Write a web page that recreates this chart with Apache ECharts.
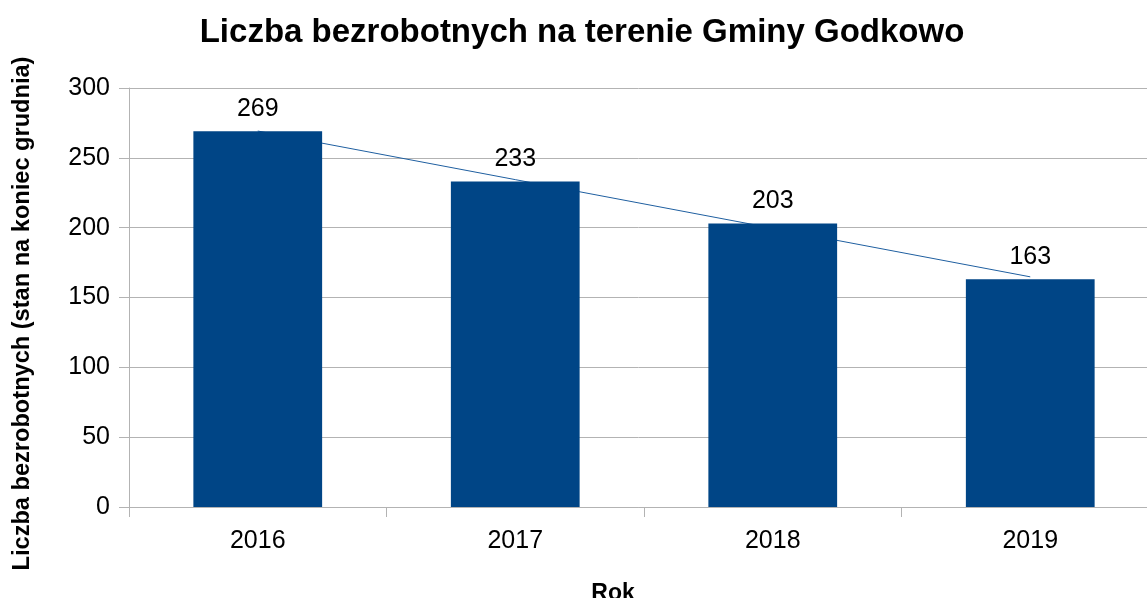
<!DOCTYPE html>
<html>
<head>
<meta charset="utf-8">
<script src="https://cdn.jsdelivr.net/npm/echarts@6/dist/echarts.min.js"></script>
<style>
  html, body { margin: 0; padding: 0; background: #fff; }
  #chart { width: 1147px; height: 598px; }
</style>
</head>
<body>
<div id="chart"></div>
<script>
// dane z wykresu
const years = ['2016', '2017', '2018', '2019'];
const unemployed = [269, 233, 203, 163];
// linia trendu
const trend = [269.2, 234.4, 199.6, 164.8];

const chart = echarts.init(document.getElementById('chart'));
const font = 'Liberation Sans, Arial, sans-serif';

chart.setOption({
  animation: false,
  textStyle: { fontFamily: font },
  title: {
    text: 'Liczba bezrobotnych na terenie Gminy Godkowo',
    left: 577,
    textAlign: 'center',
    top: 11,
    textStyle: { fontSize: 33, fontWeight: 'bold', color: '#000', fontFamily: font }
  },
  grid: {
    left: 129, top: 88, width: 1030, height: 419,
    containLabel: false,
    outerBoundsMode: 'none'
  },
  xAxis: {
    type: 'category',
    data: years,
    name: 'Rok',
    nameLocation: 'middle',
    nameGap: 75,
    // nazwa osi przesunięta w lewo jak w oryginale
    nameTextStyle: { fontSize: 23, fontWeight: 'bold', color: '#000', fontFamily: font, padding: [0, 62, 0, 0] },
    axisLine: { lineStyle: { color: '#b3b3b3', width: 1 } },
    axisTick: { show: true, length: 10, lineStyle: { color: '#b3b3b3' } },
    axisLabel: { fontSize: 25, color: '#000', margin: 22, fontFamily: font }
  },
  yAxis: {
    type: 'value',
    min: 0,
    max: 300,
    interval: 50,
    name: 'Liczba bezrobotnych (stan na koniec grudnia)',
    nameLocation: 'middle',
    nameGap: 95,
    nameTextStyle: { fontSize: 23.6, fontWeight: 'bold', color: '#000', fontFamily: font, padding: [0, 32, 0, 0] },
    axisLine: { show: true, lineStyle: { color: '#b3b3b3', width: 1 } },
    axisTick: { show: true, length: 10, lineStyle: { color: '#b3b3b3' } },
    axisLabel: { fontSize: 25, color: '#000', margin: 19, fontFamily: font },
    splitLine: { lineStyle: { color: '#b3b3b3', width: 1 } }
  },
  series: [
    {
      type: 'line',
      data: trend,
      z: 1,
      symbol: 'none',
      silent: true,
      lineStyle: { color: '#1f5fa0', width: 1 }
    },
    {
      type: 'bar',
      data: unemployed,
      z: 2,
      barWidth: '50%',
      itemStyle: { color: '#004586' },
      label: {
        show: true,
        position: 'top',
        distance: 10,
        fontSize: 25,
        color: '#000',
        fontFamily: font
      }
    }
  ]
});
</script>
</body>
</html>
